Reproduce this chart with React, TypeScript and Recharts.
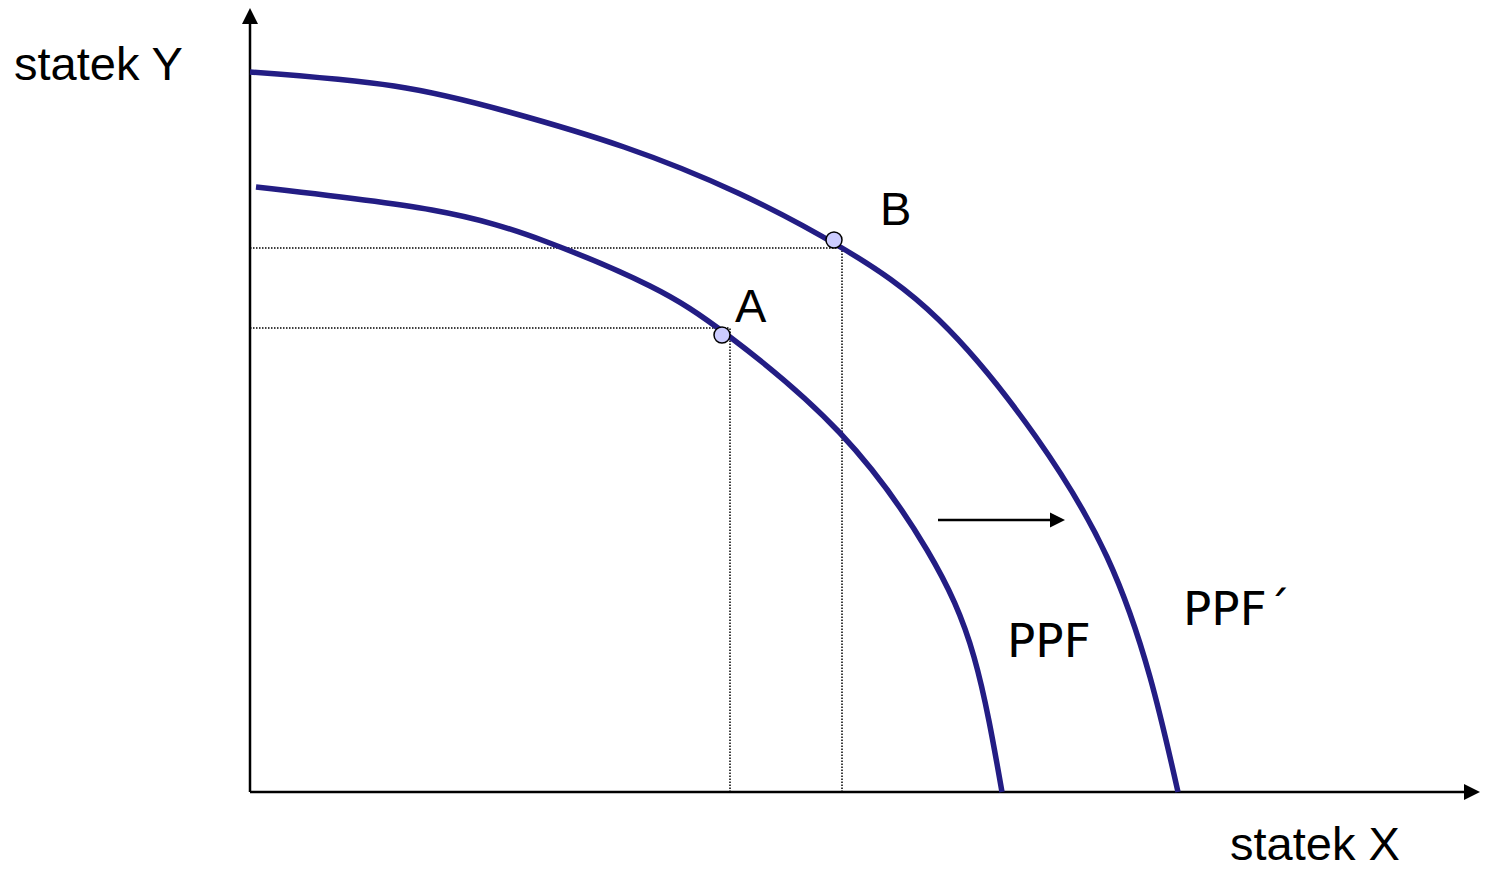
import {
  ComposedChart,
  Line,
  Scatter,
  XAxis,
  YAxis,
  ReferenceLine,
  ReferenceDot,
} from "recharts";

// outer frontier (PPF´), units
const ppfPrime = [
  { x: 0, y: 72.0 },
  { x: 14.4, y: 70.6 },
  { x: 25.9, y: 68.0 },
  { x: 37.4, y: 64.5 },
  { x: 48.8, y: 59.9 },
  { x: 59.2, y: 54.4 },
  { x: 68.9, y: 47.2 },
  { x: 78.6, y: 35.5 },
  { x: 85.7, y: 23.5 },
  { x: 90.0, y: 11.5 },
  { x: 92.8, y: 0 },
];

// inner frontier (PPF)
const ppf = [
  { x: 0.6, y: 60.5 },
  { x: 18.2, y: 58.2 },
  { x: 29.7, y: 55.0 },
  { x: 40.0, y: 50.6 },
  { x: 48.0, y: 45.5 },
  { x: 59.0, y: 35.9 },
  { x: 67.7, y: 24.2 },
  { x: 72.4, y: 13.5 },
  { x: 75.2, y: 0 },
];

const points = [
  { x: 47.2, y: 45.7, name: "A" },
  { x: 58.4, y: 55.2, name: "B" },
];

// corners of the dotted guide lines
const guides = [
  { x: 48.0, y: 46.4 },
  { x: 59.2, y: 54.4 },
];

const pointLabels = [
  { x: 48.5, y: 47.0, text: "A" },
  { x: 63.0, y: 56.7, text: "B" },
];
const axisTitles = [
  { x: -23.6, y: 71.2, text: "statek Y" },
  { x: 98.0, y: -6.8, text: "statek X" },
];
const curveLabels = [
  { x: 75.7, y: 13.5, text: "PPF" },
  { x: 93.3, y: 16.7, text: "PPF´" },
];

const shiftArrow = { from: 68.8, to: 81.5, y: 27.2 };
const xEnd = 123;
const yEnd = 78.4;

const X_DOMAIN: [number, number] = [-25, 123.6];
const Y_DOMAIN: [number, number] = [-7.7, 79.2];

const CURVE = "#231d84";

const arrowRight = (len: number, half: number) => (p: any) => (
  <polygon
    points={`${p.cx},${p.cy} ${p.cx - len},${p.cy - half} ${p.cx - len},${p.cy + half}`}
    fill="#000"
  />
);
const arrowUp = (len: number, half: number) => (p: any) => (
  <polygon
    points={`${p.cx},${p.cy} ${p.cx - half},${p.cy + len} ${p.cx + half},${p.cy + len}`}
    fill="#000"
  />
);

const textShape = (font: string, size: number) => (p: any) => (
  <text x={p.cx} y={p.cy} fontFamily={font} fontSize={size} fill="#000">
    {p.payload.text}
  </text>
);

export default function App() {
  return (
    <div style={{ position: "absolute", left: 0, top: 0, width: 1486, height: 869, background: "#fff" }}>
      <ComposedChart width={1486} height={869} margin={{ top: 0, right: 0, bottom: 0, left: 0 }}>
        <XAxis type="number" dataKey="x" domain={X_DOMAIN} allowDataOverflow hide />
        <YAxis type="number" dataKey="y" domain={Y_DOMAIN} allowDataOverflow hide />

        {guides.map((g, i) => (
          <ReferenceLine
            key={`h${i}`}
            segment={[{ x: 0, y: g.y }, { x: g.x, y: g.y }]}
            stroke="#000"
            strokeWidth={1.5}
            strokeDasharray="1.5 1.5"
          />
        ))}
        {guides.map((g, i) => (
          <ReferenceLine
            key={`v${i}`}
            segment={[{ x: g.x, y: 0 }, { x: g.x, y: g.y }]}
            stroke="#000"
            strokeWidth={1.5}
            strokeDasharray="1.5 1.5"
          />
        ))}

        {/* axes */}
        <ReferenceLine segment={[{ x: 0, y: 0 }, { x: xEnd - 1, y: 0 }]} stroke="#000" strokeWidth={2.5} />
        <ReferenceLine segment={[{ x: 0, y: 0 }, { x: 0, y: yEnd - 1 }]} stroke="#000" strokeWidth={2.5} />
        <ReferenceDot x={xEnd} y={0} ifOverflow="visible" shape={arrowRight(16, 8)} />
        <ReferenceDot x={0} y={yEnd} ifOverflow="visible" shape={arrowUp(16, 8)} />

        <Line data={ppf} dataKey="y" type="natural" stroke={CURVE} strokeWidth={5.5} dot={false} isAnimationActive={false} />
        <Line data={ppfPrime} dataKey="y" type="natural" stroke={CURVE} strokeWidth={5.5} dot={false} isAnimationActive={false} />

        {/* shift arrow */}
        <ReferenceLine
          segment={[{ x: shiftArrow.from, y: shiftArrow.y }, { x: shiftArrow.to - 1, y: shiftArrow.y }]}
          stroke="#000"
          strokeWidth={2.5}
        />
        <ReferenceDot x={shiftArrow.to} y={shiftArrow.y} ifOverflow="visible" shape={arrowRight(15, 7.5)} />

        <Scatter
          data={points}
          isAnimationActive={false}
          shape={(p: any) => <circle cx={p.cx} cy={p.cy} r={8} fill="#ccccff" stroke="#000" strokeWidth={1.5} />}
        />
        <Scatter data={pointLabels} isAnimationActive={false} shape={textShape("'Liberation Sans', Arial, sans-serif", 47)} />
        <Scatter data={axisTitles} isAnimationActive={false} shape={textShape("'Liberation Sans', Arial, sans-serif", 47)} />
        <Scatter data={curveLabels} isAnimationActive={false} shape={textShape("'DejaVu Sans', Verdana, sans-serif", 47)} />
      </ComposedChart>
    </div>
  );
}
